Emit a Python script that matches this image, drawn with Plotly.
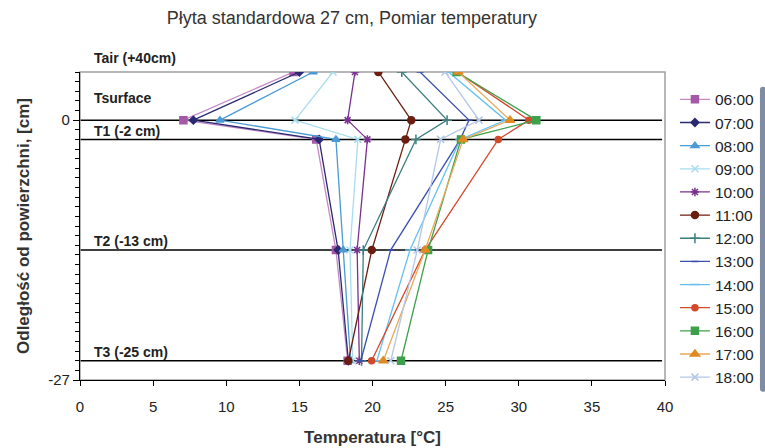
import plotly.graph_objects as go

depths = [5, 0, -2, -13.5, -25]
hours = ["06:00", "07:00", "08:00", "09:00", "10:00", "11:00", "12:00",
         "13:00", "14:00", "15:00", "16:00", "17:00", "18:00"]

t0600 = [14.6, 7.07, 16.15, 17.5, 18.3]
t0700 = [15.0, 7.75, 16.35, 17.65, 18.35]
t0800 = [15.95, 9.57, 17.5, 18.0, 18.5]
t0900 = [17.3, 14.7, 19.0, 18.46, 18.65]
t1000 = [18.8, 18.3, 19.65, 18.95, 19.1]
t1100 = [20.4, 22.65, 22.25, 19.95, 18.35]
t1200 = [22.0, 25.1, 22.97, 19.37, 19.25]
t1300 = [23.25, 26.6, 26.0, 21.24, 19.2]
t1400 = [25.2, 29.1, 26.0, 22.56, 20.3]
t1500 = [25.8, 30.7, 28.6, 23.6, 19.94]
t1600 = [25.75, 31.2, 26.05, 23.8, 21.95]
t1700 = [25.87, 29.4, 26.2, 23.6, 20.74]
t1800 = [24.96, 27.28, 24.66, 23.06, 21.25]
series = [t0600, t0700, t0800, t0900, t1000, t1100, t1200,
          t1300, t1400, t1500, t1600, t1700, t1800]

level_names = ["Tair (+40cm)", "Tsurface", "T1 (-2 cm)", "T2 (-13 cm)", "T3 (-25 cm)"]
level_label_ypx = [58, 98, 131, 241, 352]  # label centres, px from top of figure

colors = ["#A558A8", "#2A2A72", "#4A9AD4", "#A9DDEE", "#7A3190", "#6B1E10",
          "#3B7F7E", "#3B4FB0", "#67C0F0", "#D2492A", "#3FA04B", "#E08A24", "#B3C7E6"]
line_colors = ["#C58AC6", "#2A2A72", "#4A9AD4", "#A9DDEE", "#7A3190", "#6B1E10",
               "#3B7F7E", "#3B4FB0", "#67C0F0", "#D2492A", "#3FA04B", "#E8A95A", "#B3C7E6"]
symbols = ["square", "diamond", "triangle-up", "x-thin-open", "asterisk-open", "circle",
           "cross-thin-open", "line-ew-open", "line-ew-open", "circle", "square",
           "triangle-up", "x-thin-open"]
sizes = [7, 6, 7, 7, 7, 7, 7, 5, 7, 6, 7, 8, 7]

fig = go.Figure()
for i, (h, s) in enumerate(zip(hours, series)):
    fig.add_trace(go.Scatter(
        x=s, y=depths, mode="lines+markers", name=h,
        line=dict(color=line_colors[i], width=1.3),
        marker=dict(symbol=symbols[i], size=sizes[i], color=colors[i],
                    line=dict(color=colors[i], width=1.5)),
    ))

# horizontal level lines
for yv in depths[1:]:
    fig.add_shape(type="line", xref="paper", x0=0, x1=0.995, yref="y", y0=yv, y1=yv,
                  line=dict(color="black", width=1.5), layer="below")
# plot frame (top/right gray)
fig.add_shape(type="rect", xref="paper", yref="paper", x0=0, x1=1, y0=0, y1=1,
              line=dict(color="#A0A0A0", width=1.5), layer="below")

H, T, B = 448, 72, 68
ph = H - T - B
for name, ypx in zip(level_names, level_label_ypx):
    fig.add_annotation(text="<b>%s</b>" % name, x=0.021, xref="paper",
                       y=(H - B - ypx) / ph, yref="paper",
                       xanchor="left", yanchor="middle", showarrow=False,
                       font=dict(size=14, color="#222", family="Liberation Sans, Arial"))

fig.update_layout(
    width=765, height=448,
    margin=dict(l=80, r=100, t=T, b=B, autoexpand=False),
    paper_bgcolor="white", plot_bgcolor="white",
    font=dict(family="Liberation Sans, Arial", color="#222"),
    title=dict(text="Płyta standardowa 27 cm, Pomiar temperatury", x=0.46, xanchor="center",
               y=0.96, yanchor="middle", font=dict(size=18, color="#333")),
    showlegend=True,
    legend=dict(x=1.017, xanchor="left", y=0.965, yanchor="top",
                font=dict(size=15.5, color="#222"), tracegroupgap=0,
                itemwidth=30, bgcolor="rgba(0,0,0,0)"),
    xaxis=dict(range=[0, 40], dtick=5, showgrid=False, zeroline=False,
               showline=True, linecolor="black", linewidth=1.2,
               ticks="outside", ticklen=5, tickcolor="black",
               ticklabelstandoff=8,
               tickfont=dict(size=15, color="#222"),
               title=dict(text="<b>Temperatura [°C]</b>", font=dict(size=17, color="#333"),
                          standoff=17)),
    yaxis=dict(range=[-27, 5], tickmode="array", tickvals=[0, -27], ticktext=["0", "-27"],
               showgrid=False, zeroline=False, showline=True, linecolor="black", linewidth=1.2,
               ticks="outside", ticklen=6, tickcolor="black",
               tickfont=dict(size=15, color="#222"),
               minor=dict(tickmode="linear", tick0=0, dtick=1, ticks="outside", ticklen=4,
                          tickcolor="black", showgrid=False),
               title=dict(text="<b>Odległość od powierzchni, [cm]</b>",
                          font=dict(size=17, color="#333"), standoff=14)),
)

fig.write_html("out.html")
